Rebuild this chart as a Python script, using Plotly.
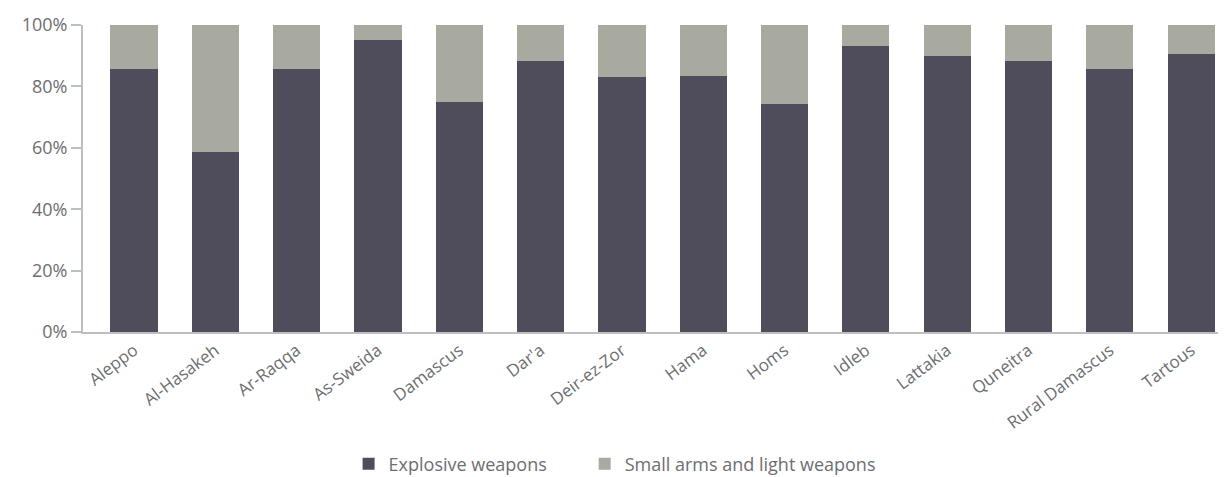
import plotly.graph_objects as go

categories = ["Aleppo", "Al-Hasakeh", "Ar-Raqqa", "As-Sweida", "Damascus", "Dar'a",
              "Deir-ez-Zor", "Hama", "Homs", "Idleb", "Lattakia", "Quneitra",
              "Rural Damascus", "Tartous"]
explosive = [85.6, 58.5, 85.6, 95.0, 74.8, 88.2, 83.0, 83.3, 74.2, 93.1, 89.8, 88.2, 85.6, 90.5]
small_arms = [round(100 - v, 1) for v in explosive]

DARK = "#4f4d5c"
LIGHT = "#a8aaa0"
TEXT = "#6d6e71"
AXIS = "#bcbec0"
FONT = "Open Sans"

fig = go.Figure()
fig.add_trace(go.Bar(x=categories, y=explosive, name="Explosive weapons",
                     marker=dict(color=DARK, line=dict(width=0)), legend="legend"))
fig.add_trace(go.Bar(x=categories, y=small_arms, name="Small arms and light weapons",
                     marker=dict(color=LIGHT, line=dict(width=0)), legend="legend2"))

legend_common = dict(orientation="h", xanchor="left", y=-0.43, yanchor="middle",
                     font=dict(size=18, color=TEXT, family=FONT),
                     bgcolor="rgba(0,0,0,0)")

# page has an 8px body margin, so figure coords are offset by 8px
fig.update_layout(
    barmode="stack",
    bargap=0.42,
    width=1210, height=469,
    margin=dict(l=75, r=0, t=17, b=145, autoexpand=False),
    paper_bgcolor="white", plot_bgcolor="white",
    font=dict(family=FONT, color=TEXT),
    showlegend=True,
    legend=dict(x=0.234, **legend_common),
    legend2=dict(x=0.442, **legend_common),
    xaxis=dict(showline=True, linecolor=AXIS, linewidth=2, ticks="",
               range=[-0.627, 13.33],
               tickangle=-37, tickfont=dict(size=17, color=TEXT, family=FONT),
               showgrid=False, automargin=False),
    yaxis=dict(range=[0, 100], tickvals=[0, 20, 40, 60, 80, 100],
               ticktext=["0%", "20%", "40%", "60%", "80%", "100%"],
               showline=True, linecolor=AXIS, linewidth=2, ticks="outside",
               ticklen=10, tickcolor=AXIS, tickwidth=2,
               tickfont=dict(size=18, color=TEXT, family=FONT),
               showgrid=False, zeroline=False, automargin=False),
)

fig.write_html("out.html")
